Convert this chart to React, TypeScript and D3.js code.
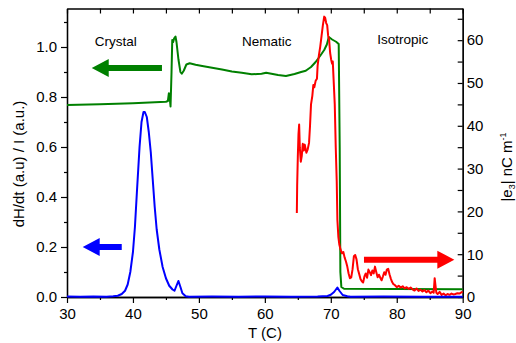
import { useRef, useEffect } from "react";
import * as d3 from "d3";

// dH/dt (blue, left axis)
const blueT = [30, 32, 34, 36, 37, 37.7, 38.3, 38.8, 39.2, 39.6, 40, 40.3, 40.6, 41, 41.3, 41.6, 41.8, 42.1, 42.4, 42.7, 43, 43.3, 43.6, 44, 44.5, 45, 45.5, 46, 46.3, 46.6, 46.9, 47.2, 47.5, 48, 48.5, 52, 56, 60, 64, 68, 69.5, 70, 70.5, 71, 71.3, 71.8, 72.5, 73, 78, 84, 90];
const blueV = [0.002, 0.001, 0.002, 0.001, 0.003, 0.005, 0.012, 0.025, 0.05, 0.1, 0.18, 0.28, 0.42, 0.6, 0.7, 0.74, 0.74, 0.72, 0.66, 0.58, 0.47, 0.36, 0.27, 0.19, 0.12, 0.075, 0.045, 0.03, 0.025, 0.045, 0.064, 0.04, 0.015, 0.003, 0.001, 0.002, 0.001, 0.002, 0.001, 0.002, 0.004, 0.009, 0.02, 0.038, 0.025, 0.008, 0.003, 0.001, 0.002, 0.001, 0.001];

// intensity (green, left axis)
const greenT = [30, 35, 40, 45, 45.3, 45.45, 45.6, 45.7, 45.85, 45.96, 46.1, 46.25, 46.45, 46.6, 46.9, 47.2, 47.4, 47.7, 48.1, 48.6, 49.5, 50.5, 52, 53.5, 55, 56.5, 58, 59.5, 60.2, 61, 62, 63.2, 64.5, 65.5, 66.2, 67, 67.7, 68.4, 69, 69.4, 69.7, 70.2, 70.8, 71.2, 71.35, 71.45, 71.6, 72, 80, 90];
const greenV = [0.768, 0.771, 0.775, 0.781, 0.784, 0.815, 0.79, 0.762, 0.9, 1.028, 1.02, 1.035, 1.042, 1.02, 0.95, 0.9, 0.893, 0.905, 0.93, 0.935, 0.929, 0.924, 0.917, 0.91, 0.902, 0.897, 0.891, 0.893, 0.897, 0.893, 0.888, 0.884, 0.892, 0.9, 0.905, 0.92, 0.94, 0.965, 0.988, 1.01, 1.04, 1.03, 1.021, 1.012, 0.6, 0.1, 0.04, 0.033, 0.032, 0.031];

// |e3| (red, right axis)
const redT = [64.85, 64.9, 65.0, 65.1, 65.2, 65.3, 65.45, 65.6, 65.75, 65.9, 66.05, 66.3, 66.5, 66.7, 66.85, 67.0, 67.2, 67.35, 67.5, 67.7, 67.9, 68.0, 68.2, 68.4, 68.6, 68.8, 69.0, 69.15, 69.3, 69.45, 69.6, 69.75, 69.9, 70.05, 70.2, 70.3, 70.45, 70.6, 70.75, 70.9, 71.0, 71.15, 71.3, 71.5, 71.7, 71.9, 72.1, 72.3, 72.5, 72.7, 72.9, 73.1, 73.3, 73.5, 73.7, 73.9, 74.1, 74.3, 74.5, 74.7, 74.9, 75.1, 75.3, 75.5, 75.7, 75.9, 76.1, 76.3, 76.5, 76.7, 76.9, 77.1, 77.3, 77.5, 77.7, 77.9, 78.1, 78.3, 78.5, 78.7, 78.9, 79.1, 79.3, 79.5, 79.7, 80.0, 80.3, 80.6, 80.9, 81.2, 81.5, 81.8, 82.1, 82.4, 82.7, 83.0, 83.3, 83.6, 83.9, 84.2, 84.5, 84.8, 85.1, 85.4, 85.6, 85.75, 85.85, 86.0, 86.2, 86.5, 86.8, 87.1, 87.4, 87.7, 88.0, 88.3, 88.6, 88.9, 89.2, 89.5, 89.8, 90];
const redV = [19.6, 26, 32.8, 38, 40.3, 35, 31.6, 33, 35.8, 34.2, 35.6, 33.7, 34.5, 36, 40, 45, 47, 49.5, 49, 50.5, 51, 54, 56.5, 58.5, 61, 63.5, 65.5, 65.2, 64, 63.5, 61, 60, 57, 55.5, 54.5, 55, 50, 45, 35, 27, 18, 14, 12.2, 11, 10.2, 10.5, 9.2, 8.3, 7.1, 5.5, 4.4, 4.6, 6.5, 9.5, 9.8, 8.8, 6.5, 5.4, 4.2, 3.7, 3.4, 4.8, 5.5, 4.5, 6.4, 5.8, 5.1, 6.2, 5.5, 7.1, 5.8, 4.6, 5.2, 4.5, 3.9, 4.8, 5.8, 5.2, 6.4, 6.6, 5.3, 4.3, 3.5, 3.0, 2.8, 2.3, 2.6, 2.2, 2.5, 2.0, 2.3, 1.9, 2.2, 1.8, 1.5, 2.0, 1.4, 1.7, 1.3, 1.6, 1.1, 1.5, 0.9, 1.3, 1.0, 4.4, 3.0, 1.0, 0.7, 1.2, 0.5, 0.8, 0.4, 0.7, 0.5, 0.8, 0.6, 0.7, 0.9, 0.8, 1.1, 1.2];

const xTicks = [30, 40, 50, 60, 70, 80, 90];
const leftTicks = [0, 0.2, 0.4, 0.6, 0.8, 1.0];
const rightTicks = [0, 10, 20, 30, 40, 50, 60];

const phases = [
  { label: "Crystal", t: 37.4, v: 1.004 },
  { label: "Nematic", t: 60.3, v: 1.004 },
  { label: "Isotropic", t: 80.9, v: 1.012 },
];

const W = 516, H = 343;
const margin = { top: 8.5, right: 53.3, bottom: 46, left: 67 };
const FONT = "'Liberation Sans', Arial, sans-serif";

export default function App() {
  const svgRef = useRef<SVGSVGElement>(null);

  useEffect(() => {
    if (!svgRef.current) return;
    const svg = d3.select(svgRef.current);
    svg.selectAll("*").remove();

    const width = W - margin.left - margin.right;
    const height = H - margin.top - margin.bottom;
    const g = svg.append("g").attr("transform", `translate(${margin.left},${margin.top})`);

    const x = d3.scaleLinear().domain([30, 90]).range([0, width]);
    const yL = d3.scaleLinear().domain([0, 1.154]).range([height, 0]);
    const yR = d3.scaleLinear().domain([0, 67.4]).range([height, 0]);

    const styleAxis = (sel: any) => {
      sel.select(".domain").attr("stroke", "#000").attr("stroke-width", 1.3);
      sel.selectAll("line").attr("stroke", "#000").attr("stroke-width", 1.2);
      sel.selectAll("text").attr("fill", "#000").attr("font-size", 15).attr("font-family", FONT);
    };

    // minor ticks
    const minorX = d3.range(35, 90, 10);
    const minorL = d3.range(0.1, 1.15, 0.2);
    const minorR = d3.range(5, 67, 10);

    g.append("g").attr("transform", `translate(0,${height})`)
      .call(d3.axisBottom(x).tickValues(minorX).tickSize(3).tickFormat(() => "").tickSizeOuter(0))
      .call(styleAxis);
    g.append("g").attr("transform", `translate(0,${height})`)
      .call(d3.axisBottom(x).tickValues(xTicks).tickSize(6).tickPadding(5).tickSizeOuter(0))
      .call(styleAxis);

    // top frame, ticks inward every 5
    g.append("g")
      .call(d3.axisTop(x).tickValues(d3.range(30, 91, 5)).tickSize(-5).tickFormat(() => "").tickSizeOuter(0))
      .call(styleAxis);

    g.append("g")
      .call(d3.axisLeft(yL).tickValues(minorL).tickSize(3).tickFormat(() => "").tickSizeOuter(0))
      .call(styleAxis);
    g.append("g")
      .call(d3.axisLeft(yL).tickValues(leftTicks).tickSize(6).tickPadding(4).tickFormat(d3.format(".1f")).tickSizeOuter(0))
      .call(styleAxis);

    g.append("g").attr("transform", `translate(${width},0)`)
      .call(d3.axisRight(yR).tickValues(minorR).tickSize(-5).tickFormat(() => "").tickSizeOuter(0))
      .call(styleAxis);
    g.append("g").attr("transform", `translate(${width},0)`)
      .call(d3.axisRight(yR).tickValues(rightTicks).tickSize(-5).tickPadding(4).tickSizeOuter(0))
      .call(styleAxis);

    // curves
    const lineL = d3.line<[number, number]>().x(d => x(d[0])).y(d => yL(d[1]));
    const lineR = d3.line<[number, number]>().x(d => x(d[0])).y(d => yR(d[1]));
    const zip = (a: number[], b: number[]) => a.map((t, i) => [t, b[i]] as [number, number]);

    g.append("path").attr("d", lineL(zip(greenT, greenV))).attr("fill", "none")
      .attr("stroke", "#008000").attr("stroke-width", 2).attr("stroke-linejoin", "round");
    g.append("path").attr("d", lineR(zip(redT, redV))).attr("fill", "none")
      .attr("stroke", "#ff0000").attr("stroke-width", 2).attr("stroke-linejoin", "round");
    g.append("path").attr("d", lineL(zip(blueT, blueV))).attr("fill", "none")
      .attr("stroke", "#0000ff").attr("stroke-width", 2).attr("stroke-linejoin", "round");

    // arrows
    const arrow = (x0: number, x1: number, yy: number, color: string) => {
      const dir = x1 > x0 ? 1 : -1;
      const head = 17, hh = 9, sh = 3;
      const xb = x1 - dir * head;
      const pts = [[x0, yy - sh], [xb, yy - sh], [xb, yy - hh], [x1, yy], [xb, yy + hh], [xb, yy + sh], [x0, yy + sh]];
      g.append("polygon").attr("points", pts.map(p => p.join(",")).join(" ")).attr("fill", color);
    };
    arrow(x(44.4), x(33.75), yL(0.916), "#008000");
    arrow(x(38.3), x(32.38), yL(0.2), "#0000ff");
    arrow(x(75.03), x(88.73), yR(8.72), "#ff0000");

    // phase labels
    g.selectAll(".phase").data(phases).enter().append("text")
      .attr("x", d => x(d.t)).attr("y", d => yL(d.v))
      .attr("text-anchor", "middle").attr("font-size", 13.5).attr("font-family", FONT)
      .text(d => d.label);

    // axis titles
    svg.append("text").attr("x", 265).attr("y", 338).attr("text-anchor", "middle")
      .attr("font-size", 15).attr("font-family", FONT).text("T (C)");
    svg.append("text").attr("transform", "translate(24,164) rotate(-90)").attr("text-anchor", "middle")
      .attr("font-size", 15).attr("font-family", FONT).text("dH/dt (a.u) / I (a.u.)");
    const rt = svg.append("text").attr("transform", "translate(512,167) rotate(-90)").attr("text-anchor", "middle")
      .attr("font-size", 15).attr("font-family", FONT);
    rt.append("tspan").text("|e");
    rt.append("tspan").attr("font-size", 9).attr("dy", 3).text("3");
    rt.append("tspan").attr("dy", -3).text("| nC m");
    rt.append("tspan").attr("font-size", 9).attr("dy", -6).text("-1");
  }, []);

  return (
    <div style={{ position: "absolute", left: 0, top: 0, width: W, height: H, background: "#fff" }}>
      <svg ref={svgRef} width={W} height={H} />
    </div>
  );
}
